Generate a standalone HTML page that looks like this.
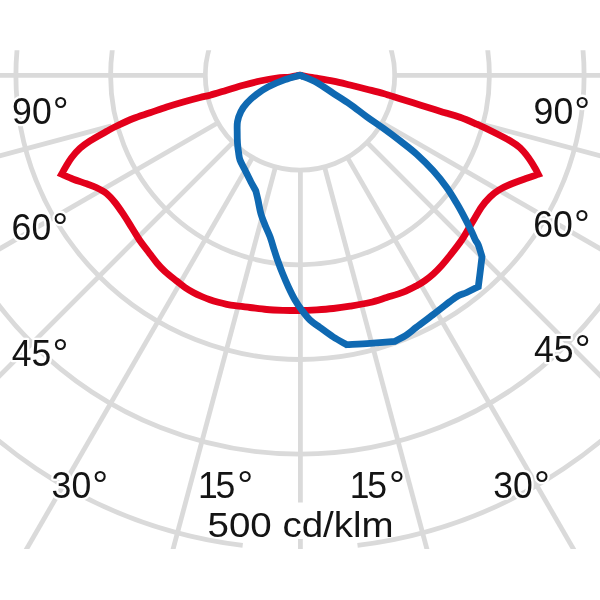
<!DOCTYPE html>
<html><head><meta charset="utf-8"><title>Polar diagram</title>
<style>html,body{margin:0;padding:0;background:#fff}svg{display:block}text{font-family:"Liberation Sans",sans-serif;fill:#141414}</style></head><body>
<svg width="600" height="600" viewBox="0 0 600 600">
<rect width="600" height="600" fill="#fff"/>
<defs><clipPath id="c"><rect x="0" y="50.2" width="600" height="498.8"/></clipPath></defs>
<g clip-path="url(#c)" fill="none" stroke="#dadada" stroke-width="4.8">
<circle cx="300.0" cy="75.4" r="94.70"/>
<circle cx="300.0" cy="75.4" r="189.40"/>
<circle cx="300.0" cy="75.4" r="284.10"/>
<circle cx="300.0" cy="75.4" r="378.80"/>
<path d="M357.50,545.40 A473.50,473.50 0 1 0 242.70,545.42"/>
<path d="M205.30,75.40 L-400.00,75.40"/>
<path d="M111.64,125.87 L-376.15,256.57"/>
<path d="M217.99,122.75 L-306.22,425.40"/>
<path d="M233.04,142.36 L-194.97,570.37"/>
<path d="M252.65,157.41 L-50.00,681.62"/>
<path d="M275.49,166.87 L118.83,751.55"/>
<path d="M300.4,170.10 V502.5 M300.4,539 V560"/>
<path d="M324.51,166.87 L481.17,751.55"/>
<path d="M347.35,157.41 L650.00,681.62"/>
<path d="M366.96,142.36 L794.97,570.37"/>
<path d="M382.01,122.75 L906.22,425.40"/>
<path d="M444.89,114.22 L976.15,256.57"/>
<path d="M394.70,75.40 L1000.00,75.40"/>
</g>
<text transform="translate(12.10,124.00) scale(0.97,1)" font-size="36.7" stroke="#fff" stroke-width="4.6" stroke-linejoin="round" paint-order="stroke">90<tspan font-size="41" dx="1.2" dy="1.2">°</tspan></text>
<text transform="translate(533.60,124.00) scale(0.97,1)" font-size="36.7" stroke="#fff" stroke-width="4.6" stroke-linejoin="round" paint-order="stroke">90<tspan font-size="41" dx="1.2" dy="1.2">°</tspan></text>
<text transform="translate(11.60,240.00) scale(0.97,1)" font-size="36.7" stroke="#fff" stroke-width="4.6" stroke-linejoin="round" paint-order="stroke">60<tspan font-size="41" dx="1.2" dy="1.2">°</tspan></text>
<text transform="translate(533.20,236.70) scale(0.97,1)" font-size="36.7" stroke="#fff" stroke-width="4.6" stroke-linejoin="round" paint-order="stroke">60<tspan font-size="41" dx="1.2" dy="1.2">°</tspan></text>
<text transform="translate(11.70,365.80) scale(0.97,1)" font-size="36.7" stroke="#fff" stroke-width="4.6" stroke-linejoin="round" paint-order="stroke">45<tspan font-size="41" dx="1.2" dy="1.2">°</tspan></text>
<text transform="translate(534.00,362.20) scale(0.97,1)" font-size="36.7" stroke="#fff" stroke-width="4.6" stroke-linejoin="round" paint-order="stroke">45<tspan font-size="41" dx="1.2" dy="1.2">°</tspan></text>
<text transform="translate(51.60,497.50) scale(0.97,1)" font-size="36.7" stroke="#fff" stroke-width="4.6" stroke-linejoin="round" paint-order="stroke">30<tspan font-size="41" dx="1.2" dy="1.2">°</tspan></text>
<text transform="translate(493.20,497.50) scale(0.97,1)" font-size="36.7" stroke="#fff" stroke-width="4.6" stroke-linejoin="round" paint-order="stroke">30<tspan font-size="41" dx="1.2" dy="1.2">°</tspan></text>
<text transform="translate(196.60,497.50) scale(0.97,1)" font-size="36.7" stroke="#fff" stroke-width="4.6" stroke-linejoin="round" paint-order="stroke"><tspan dx="1.5">1</tspan><tspan dx="-2.4">5</tspan><tspan font-size="41" dx="2.1" dy="1.2">°</tspan></text>
<text transform="translate(348.30,497.50) scale(0.97,1)" font-size="36.7" stroke="#fff" stroke-width="4.6" stroke-linejoin="round" paint-order="stroke"><tspan dx="1.5">1</tspan><tspan dx="-2.4">5</tspan><tspan font-size="41" dx="2.1" dy="1.2">°</tspan></text>
<text transform="translate(207.5,537) scale(1.085,1)" font-size="35.5">500 cd/klm</text>
<g fill="none" stroke="#e3001b" stroke-width="6.8"><path d="M300.00,75.20 C297.80,75.62 293.88,76.63 290.00,77.10 C286.12,77.57 281.70,77.35 276.70,78.00 C271.70,78.65 265.57,79.80 260.00,81.00 C254.43,82.20 248.85,83.67 243.30,85.20 C237.75,86.73 232.25,88.53 226.70,90.20 C221.15,91.87 214.45,93.98 210.00,95.20 C205.55,96.42 204.45,96.37 200.00,97.50 C195.55,98.63 188.85,100.42 183.30,102.00 C177.75,103.58 172.25,105.20 166.70,107.00 C161.15,108.80 155.57,110.88 150.00,112.80 C144.43,114.72 138.85,116.30 133.30,118.50 C127.75,120.70 121.13,123.87 116.70,126.00 C112.27,128.13 111.15,128.83 106.70,131.30 C102.25,133.77 94.45,137.97 90.00,140.80 C85.55,143.63 83.05,145.52 80.00,148.30 C76.95,151.08 74.07,154.43 71.70,157.50 C69.33,160.57 67.48,163.92 65.80,166.70 C64.12,169.48 62.52,172.55 61.60,174.20 C64.17,175.30 69.12,177.60 73.30,179.20 C77.48,180.80 82.80,182.38 86.70,183.80 C90.60,185.22 93.37,186.07 96.70,187.70 C100.03,189.33 103.65,191.13 106.70,193.60 C109.75,196.07 112.23,199.07 115.00,202.50 C117.77,205.93 120.52,210.03 123.30,214.20 C126.08,218.37 128.92,223.07 131.70,227.50 C134.48,231.93 137.23,236.77 140.00,240.80 C142.77,244.83 145.52,248.05 148.30,251.70 C151.08,255.35 153.92,259.40 156.70,262.70 C159.48,266.00 161.67,268.45 165.00,271.50 C168.33,274.55 173.37,278.33 176.70,281.00 C180.03,283.67 182.23,285.58 185.00,287.50 C187.77,289.42 190.52,291.00 193.30,292.50 C196.08,294.00 198.92,295.28 201.70,296.50 C204.48,297.72 207.23,298.83 210.00,299.80 C212.77,300.77 215.52,301.55 218.30,302.30 C221.08,303.05 223.92,303.73 226.70,304.30 C229.48,304.87 231.12,305.17 235.00,305.70 C238.88,306.23 244.72,306.87 250.00,307.50 C255.28,308.13 261.15,309.03 266.70,309.50 C272.25,309.97 277.75,310.13 283.30,310.30 C288.85,310.47 294.43,310.58 300.00,310.50 C305.57,310.42 311.15,310.13 316.70,309.80 C322.25,309.47 327.75,309.10 333.30,308.50 C338.85,307.90 343.88,307.20 350.00,306.20 C356.12,305.20 363.88,303.95 370.00,302.50 C376.12,301.05 381.15,299.22 386.70,297.50 C392.25,295.78 398.30,294.17 403.30,292.20 C408.30,290.23 413.08,287.63 416.70,285.70 C420.32,283.77 422.23,282.55 425.00,280.60 C427.77,278.65 430.52,276.52 433.30,274.00 C436.08,271.48 438.92,268.58 441.70,265.50 C444.48,262.42 446.67,259.75 450.00,255.50 C453.33,251.25 458.08,245.37 461.70,240.00 C465.32,234.63 468.37,228.85 471.70,223.30 C475.03,217.75 478.65,211.08 481.70,206.70 C484.75,202.32 487.23,199.73 490.00,197.00 C492.77,194.27 494.97,192.38 498.30,190.30 C501.63,188.22 505.27,186.50 510.00,184.50 C514.73,182.50 521.98,179.98 526.70,178.30 C531.42,176.62 535.75,175.26 538.30,174.40 C537.57,172.99 536.67,170.82 535.00,168.00 C533.33,165.18 530.80,160.87 528.30,157.50 C525.80,154.13 523.05,150.58 520.00,147.80 C516.95,145.02 514.45,143.43 510.00,140.80 C505.55,138.17 498.85,134.77 493.30,132.00 C487.75,129.23 482.25,126.65 476.70,124.20 C471.15,121.75 466.12,119.47 460.00,117.30 C453.88,115.13 446.67,113.25 440.00,111.20 C433.33,109.15 426.67,107.08 420.00,105.00 C413.33,102.92 406.12,100.62 400.00,98.70 C393.88,96.78 388.85,95.08 383.30,93.50 C377.75,91.92 372.25,90.62 366.70,89.20 C361.15,87.78 355.57,86.35 350.00,85.00 C344.43,83.65 338.85,82.23 333.30,81.10 C327.75,79.97 320.92,78.90 316.70,78.20 C312.48,77.50 310.78,77.40 308.00,76.90 C305.22,76.40 301.76,75.57 300.00,75.20" stroke-linejoin="miter" stroke-miterlimit="6"/><path d="M301.60,75.54 L300.00,75.20 L298.00,75.58" stroke-linejoin="bevel"/></g>
<g fill="none" stroke="#0f69b2" stroke-width="6.8"><path d="M300.00,75.20 C296.70,76.17 290.28,77.68 285.00,79.60 C279.72,81.52 273.02,84.27 268.30,86.70 C263.58,89.13 260.30,91.43 256.70,94.20 C253.10,96.97 249.35,100.38 246.70,103.30 C244.05,106.22 242.33,108.63 240.80,111.70 C239.27,114.77 238.10,118.37 237.50,121.70 C236.90,125.03 237.20,128.10 237.20,131.70 C237.20,135.30 237.28,139.92 237.50,143.30 C237.72,146.68 238.08,149.22 238.50,152.00 C238.92,154.78 238.92,157.00 240.00,160.00 C241.08,163.00 243.20,166.38 245.00,170.00 C246.80,173.62 249.00,178.23 250.80,181.70 C252.60,185.17 254.70,188.80 255.80,190.80 C256.28,192.82 257.17,196.25 258.00,200.00 C258.83,203.75 259.63,209.13 260.80,213.30 C261.97,217.47 263.47,221.10 265.00,225.00 C266.53,228.90 268.47,232.53 270.00,236.70 C271.53,240.87 272.95,246.12 274.20,250.00 C275.45,253.88 276.12,256.12 277.50,260.00 C278.88,263.88 280.70,268.85 282.50,273.30 C284.30,277.75 286.22,282.25 288.30,286.70 C290.38,291.15 292.77,296.12 295.00,300.00 C297.23,303.88 299.20,306.67 301.70,310.00 C304.20,313.33 306.95,317.08 310.00,320.00 C313.05,322.92 316.12,324.67 320.00,327.50 C323.88,330.33 328.85,334.13 333.30,337.00 C337.75,339.87 343.75,343.01 346.70,344.70 C351.83,344.39 361.95,343.87 370.00,343.30 C378.05,342.73 389.50,341.74 395.00,341.30 C397.57,339.87 403.08,337.18 406.70,334.80 C410.32,332.42 412.27,330.38 416.70,327.00 C421.13,323.62 427.75,318.75 433.30,314.50 C438.85,310.25 445.83,304.62 450.00,301.50 C454.17,298.38 455.52,297.30 458.30,295.80 C461.08,294.30 463.37,294.02 466.70,292.50 C470.03,290.98 475.75,287.98 478.30,286.70 C478.67,283.75 479.38,278.30 480.00,273.30 C480.62,268.30 481.56,260.35 482.00,256.70 C481.19,254.13 479.40,247.78 478.30,245.00 C477.20,242.22 476.50,242.22 475.40,240.00 C474.30,237.78 473.43,235.32 471.70,231.70 C469.97,228.08 467.50,223.03 465.00,218.30 C462.50,213.57 459.75,208.43 456.70,203.30 C453.65,198.17 450.60,192.92 446.70,187.50 C442.80,182.08 438.30,176.35 433.30,170.80 C428.30,165.25 422.08,159.08 416.70,154.20 C411.32,149.32 406.57,145.82 401.00,141.50 C395.43,137.18 389.02,132.43 383.30,128.30 C377.58,124.17 372.25,120.72 366.70,116.70 C361.15,112.68 355.57,108.10 350.00,104.20 C344.43,100.30 338.85,96.92 333.30,93.30 C327.75,89.68 322.25,85.52 316.70,82.50 C311.15,79.48 303.67,76.81 300.00,75.20" stroke-linejoin="miter" stroke-miterlimit="6"/><path d="M303.34,76.66 L300.00,75.20 L297.00,76.08" stroke-linejoin="bevel"/></g>
</svg></body></html>
